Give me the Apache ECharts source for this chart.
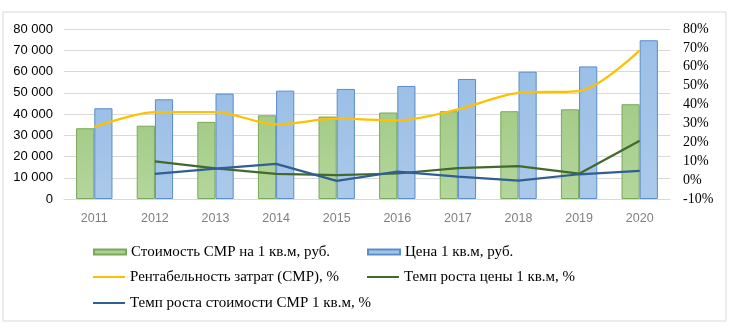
<!DOCTYPE html>
<html>
<head>
<meta charset="utf-8">
<script src="https://cdn.jsdelivr.net/npm/echarts@6/dist/echarts.min.js"></script>
<style>
  html, body { margin: 0; padding: 0; background: #fff; }
  #chart { width: 744px; height: 328px; }
</style>
</head>
<body>
<div id="chart"></div>
<script>
// годы
const years = ['2011', '2012', '2013', '2014', '2015', '2016', '2017', '2018', '2019', '2020']
// стоимость СМР и цена, руб. за 1 кв.м
const costSmr = [33300, 34500, 36300, 39400, 38800, 40700, 41300, 41300, 42200, 44600]
const price = [42700, 46900, 49600, 51000, 51800, 53200, 56500, 59900, 62400, 74700]
// проценты
const profitability = [28.1, 36.0, 36.0, 29.5, 32.5, 31.6, 37.4, 46.2, 47.1, 68.7]
const priceGrowth = [null, 9.9, 6.2, 3.3, 2.6, 3.5, 6.3, 7.4, 3.4, 20.8]
const costGrowth = [null, 3.3, 6.1, 8.6, -0.4, 4.5, 1.9, -0.3, 3.1, 4.9]

const names = [
  'Стоимость СМР на 1 кв.м, руб.',
  'Цена 1 кв.м, руб.',
  'Рентабельность затрат (СМР), %',
  'Темп роста цены 1 кв.м, %',
  'Темп роста стоимости СМР 1 кв.м, %'
]

const chart = echarts.init(document.getElementById('chart'))

const legendText = {
  fontFamily: '"Liberation Serif", "Times New Roman", serif',
  fontSize: 15,
  color: '#000',
  lineHeight: 16
}

// одна легенда на каждую запись, чтобы выставить их по колонкам
function legendItem(name, left, centerY, isBar) {
  return {
    left: left,
    top: centerY - 8,
    padding: 0,
    itemWidth: 32,
    itemHeight: isBar ? 5 : 2,
    icon: 'rect',
    textStyle: legendText,
    data: [name]
  }
}

const option = {
  animation: false,
  graphic: [
    {
      type: 'rect',
      shape: { x: 3, y: 12, width: 723, height: 309 },
      style: { fill: 'none', stroke: '#d9d9d9', lineWidth: 1 }
    }
  ],
  grid: {
    left: 64,
    right: 74,
    top: 29,
    bottom: 129,
    containLabel: false
  },
  legend: [
    legendItem(names[0], 93, 252, true),
    legendItem(names[1], 367, 252, true),
    legendItem(names[2], 93, 277, false),
    legendItem(names[3], 367, 277, false),
    legendItem(names[4], 93, 303, false)
  ],
  xAxis: {
    type: 'category',
    data: years,
    axisLine: { lineStyle: { color: '#d9d9d9' } },
    axisTick: { show: false },
    axisLabel: {
      color: '#808080',
      fontFamily: '"Liberation Sans", Arial, sans-serif',
      fontSize: 12.5,
      margin: 13
    }
  },
  yAxis: [
    {
      type: 'value',
      min: 0,
      max: 80000,
      interval: 10000,
      axisLine: { show: false },
      axisTick: { show: false },
      splitLine: { lineStyle: { color: '#d9d9d9' } },
      axisLabel: {
        color: '#000',
        fontFamily: '"Liberation Sans", Arial, sans-serif',
        fontSize: 13,
        margin: 11,
        formatter: function (v) {
          return String(v).replace(/\B(?=(\d{3})+(?!\d))/g, ' ')
        }
      }
    },
    {
      type: 'value',
      min: -10,
      max: 80,
      interval: 10,
      position: 'right',
      axisLine: { show: false },
      axisTick: { show: false },
      splitLine: { show: false },
      axisLabel: {
        color: '#000',
        fontFamily: '"Liberation Serif", "Times New Roman", serif',
        fontSize: 14,
        margin: 13,
        formatter: '{value}%'
      }
    }
  ],
  series: [
    {
      name: names[0],
      type: 'bar',
      data: costSmr,
      barWidth: '30%',
      barGap: '0%',
      itemStyle: {
        color: new echarts.graphic.LinearGradient(0, 0, 0, 1, [
          { offset: 0, color: '#a4cc88' },
          { offset: 1, color: '#b4d69c' }
        ]),
        borderColor: '#78a95a',
        borderWidth: 1
      }
    },
    {
      name: names[1],
      type: 'bar',
      data: price,
      barWidth: '30%',
      itemStyle: {
        color: new echarts.graphic.LinearGradient(0, 0, 0, 1, [
          { offset: 0, color: '#9bbfe6' },
          { offset: 1, color: '#abc9ea' }
        ]),
        borderColor: '#5b8dc8',
        borderWidth: 1
      }
    },
    {
      name: names[2],
      type: 'line',
      yAxisIndex: 1,
      data: profitability,
      smooth: 0.3,
      symbol: 'none',
      lineStyle: { color: '#ffc000', width: 2.25 },
      itemStyle: { color: '#ffc000' }
    },
    {
      name: names[3],
      type: 'line',
      yAxisIndex: 1,
      data: priceGrowth,
      symbol: 'none',
      lineStyle: { color: '#436a2e', width: 2.25 },
      itemStyle: { color: '#436a2e' }
    },
    {
      name: names[4],
      type: 'line',
      yAxisIndex: 1,
      data: costGrowth,
      symbol: 'none',
      lineStyle: { color: '#2f5f93', width: 2.25 },
      itemStyle: { color: '#2f5f93' }
    }
  ]
}

chart.setOption(option)
</script>
</body>
</html>
